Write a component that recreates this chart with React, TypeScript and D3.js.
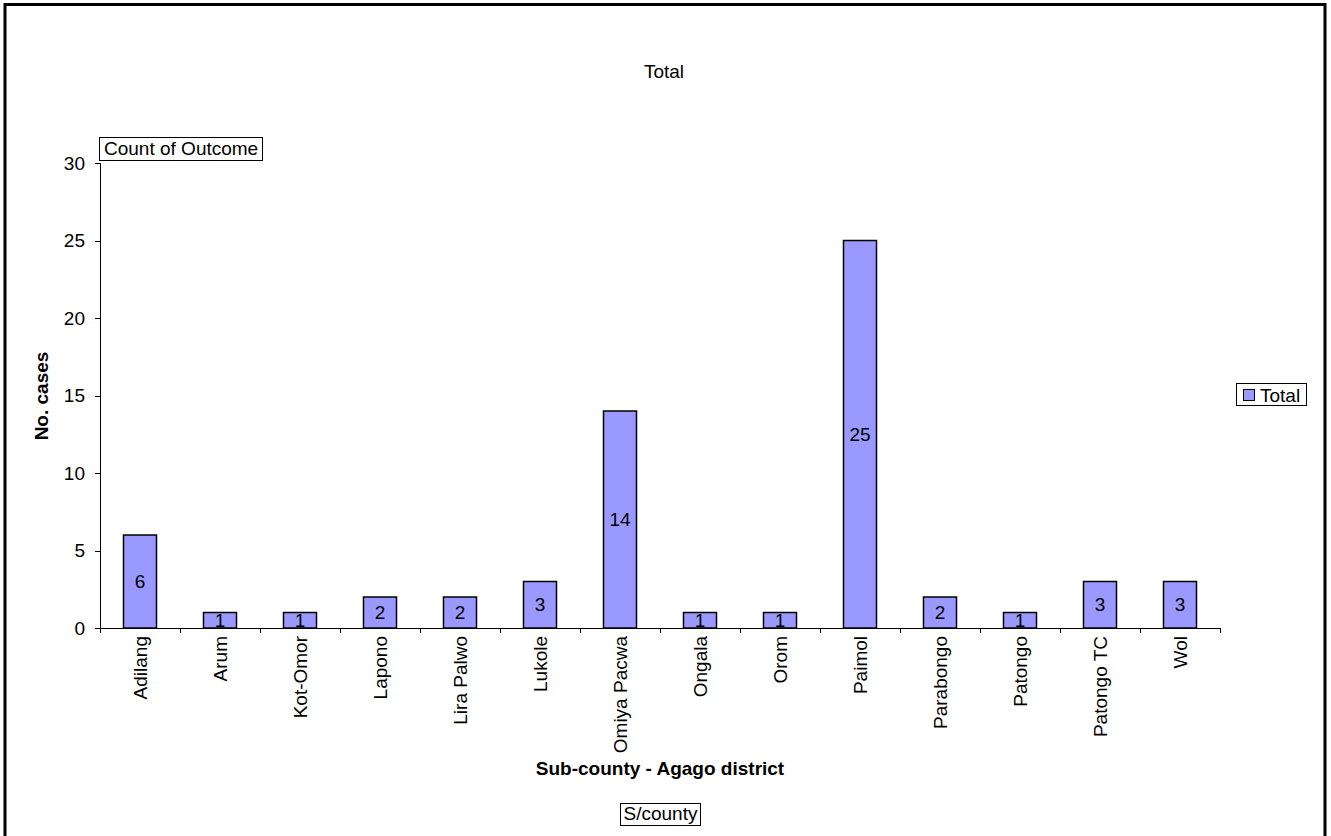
import React from "react";
import * as d3 from "d3";

const categories = ["Adilang","Arum","Kot-Omor","Lapono","Lira Palwo","Lukole","Omiya Pacwa","Ongala","Orom","Paimol","Parabongo","Patongo","Patongo TC","Wol"];
const values = [6,1,1,2,2,3,14,1,1,25,2,1,3,3];
const yTicks = [0,5,10,15,20,25,30];

const W = 1331, H = 836;
const left = 100, right = 1220, top = 163, bottom = 628;
const font = "Liberation Sans, Arial, sans-serif";
const FS = 19;

export default function App() {
  const x = d3.scaleBand<string>().domain(categories).range([left, right]).paddingInner(0.5875).paddingOuter(0.29375);
  const y = d3.scaleLinear().domain([0, 30]).range([bottom, top]);
  const step = (right - left) / categories.length;
  return (
    <svg width={W} height={H} style={{ position: "absolute", left: 0, top: 0, background: "#fff" }} fontFamily={font}>
      <rect x={5} y={4.5} width={1320} height={840} fill="#fff" stroke="#000" strokeWidth={3} />
      <text x={664} y={78} textAnchor="middle" fontSize={FS}>Total</text>
      {/* y axis */}
      <line x1={left + 0.5} x2={left + 0.5} y1={top} y2={bottom} stroke="#000" />
      {yTicks.map(t => (
        <g key={t}>
          <line x1={left - 5} x2={left} y1={Math.round(y(t)) + 0.5} y2={Math.round(y(t)) + 0.5} stroke="#000" />
          <text x={85} y={y(t) + 6.5} textAnchor="end" fontSize={FS}>{t}</text>
        </g>
      ))}
      {/* bars */}
      {categories.map((c, i) => (
        <g key={c}>
          <rect x={x(c)} y={y(values[i])} width={x.bandwidth()} height={bottom - y(values[i])} fill="#9999FF" stroke="#000" strokeWidth={1.5} />
          <text x={(x(c) as number) + x.bandwidth() / 2} y={(y(values[i]) + bottom) / 2 + 6.5} textAnchor="middle" fontSize={FS}>{values[i]}</text>
        </g>
      ))}
      {/* x axis */}
      <line x1={left} x2={right} y1={bottom + 0.5} y2={bottom + 0.5} stroke="#000" />
      {d3.range(categories.length + 1).map(i => (
        <line key={i} x1={Math.round(left + i * step) + 0.5} x2={Math.round(left + i * step) + 0.5} y1={bottom} y2={bottom + 5} stroke="#000" />
      ))}
      {categories.map(c => {
        const cx = (x(c) as number) + x.bandwidth() / 2;
        return (
          <text key={c} transform={`translate(${cx + 7},${636}) rotate(-90)`} textAnchor="end" fontSize={FS}>{c}</text>
        );
      })}
      <text transform={`translate(48,396) rotate(-90)`} textAnchor="middle" fontSize={FS} fontWeight="bold">No. cases</text>
      <text x={660} y={775} textAnchor="middle" fontSize={FS} fontWeight="bold">Sub-county - Agago district</text>
      {/* field buttons */}
      <rect x={99.5} y={137.5} width={163} height={23} fill="#fff" stroke="#000" />
      <text x={104} y={154.5} fontSize={FS}>Count of Outcome</text>
      <rect x={620.5} y={803.5} width={80} height={22} fill="#fff" stroke="#000" />
      <text x={660.5} y={820} textAnchor="middle" fontSize={FS}>S/county</text>
      {/* legend */}
      <rect x={1236.5} y={383.5} width={70} height={22} fill="#fff" stroke="#000" />
      <rect x={1243.5} y={389.5} width={11} height={11} fill="#9999FF" stroke="#000" />
      <text x={1260} y={401.5} fontSize={FS}>Total</text>
    </svg>
  );
}
